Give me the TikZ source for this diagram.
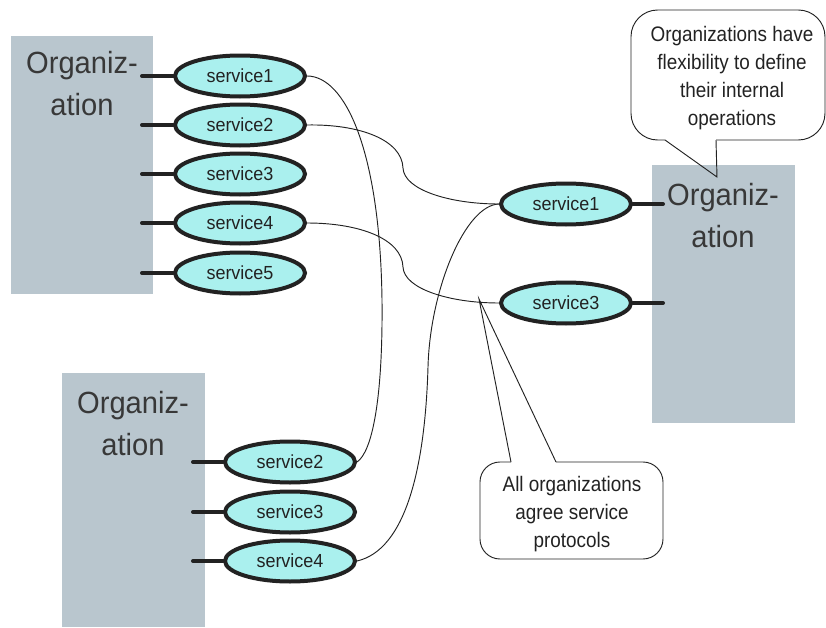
\documentclass[tikz,border=0pt]{standalone}
\usepackage{fontspec}
\setmainfont{Liberation Sans}[FakeStretch=0.9]
\newfontfamily\labelfont{Liberation Sans}[FakeStretch=0.95]
\usetikzlibrary{shapes.geometric,backgrounds}
\definecolor{orgfill}{HTML}{B9C6CE}
\definecolor{svcfill}{HTML}{AAF0EE}
\definecolor{ink}{HTML}{222222}
\begin{document}
\begin{tikzpicture}[x=0.75pt,y=-0.75pt,
  org/.style={fill=orgfill, draw=none, anchor=north west, inner sep=0},
  orglabel/.style={align=center, font=\labelfont\fontsize{23}{31.5}\selectfont, text=ink!90, inner sep=0},
  svc/.style={ellipse, draw=ink, line width=3pt, fill=svcfill, minimum width=97.5pt,
    minimum height=30.75pt, inner sep=0, font=\labelfont\fontsize{14.2}{16}\selectfont, text=ink},
  stub/.style={draw=ink, line width=3pt, line cap=round},
  link/.style={draw=ink, line width=0.7pt},
  note/.style={align=center, font=\fontsize{15.75}{21}\selectfont, text=ink, inner sep=0},
  callout/.style={draw=ink, line width=0.7pt}]
\useasboundingbox (0,0) rectangle (826,628);

% organisations
\node[org, minimum width=106.5pt, minimum height=193.5pt] (orgA) at (11,36) {};
\node[org, minimum width=107.25pt, minimum height=190.5pt] (orgB) at (62,373) {};
\node[org, minimum width=107.25pt, minimum height=193.5pt] (orgC) at (652,165) {};
\node[orglabel] (labA) at (82,84) {Organiz-\\ation};
\node[orglabel] (labB) at (133,424) {Organiz-\\ation};
\node[orglabel] (labC) at (723,216) {Organiz-\\ation};

% services of the first organisation
\foreach \n/\y in {1/76,2/125,3/174,4/223,5/273}{
  \node[svc] (a\n) at (240,\y) {service\n};
  \coordinate (sa\n) at (142,\y);
  \draw[stub] (sa\n) -- (a\n.west);
}
% services of the second organisation
\foreach \n/\y in {2/462,3/512,4/561}{
  \node[svc] (b\n) at (290,\y) {service\n};
  \coordinate (sb\n) at (193,\y);
  \draw[stub] (sb\n) -- (b\n.west);
}
% services of the third organisation
\foreach \n/\y in {1/204,3/303}{
  \node[svc] (c\n) at (566,\y) {service\n};
  \coordinate (sc\n) at (663,\y);
  \draw[stub] (c\n.east) -- (sc\n);
}

% connectors between services, kept behind the ellipses
\begin{pgfonlayer}{background}
\draw[link] (a1.east) .. controls (345,76) and (380,150) .. (382,300)
  .. controls (383,400) and (372,452) .. (b2.east);
\draw[link] (a2.east) .. controls (360,124) and (402,140) .. (403,168)
  .. controls (404,190) and (450,204) .. (c1.west);
\draw[link] (a4.east) .. controls (360,223) and (402,239) .. (403,267)
  .. controls (404,289) and (450,303) .. (c3.west);
\draw[link] (b4.east) .. controls (405,550) and (425,470) .. (428,367)
  .. controls (430,290) and (465,205) .. (c1.west);
\end{pgfonlayer}

% callouts
\node[note] (noteA) at (732,78) {Organizations have\\flexibility to define\\their internal\\operations};
\draw[callout, rounded corners=20] (665,140) -- (631,140) -- (631,10) -- (825,10)
  -- (825,140) -- (716,140);
\draw[callout] (716,140) -- (717,177) -- (665,140);

\node[note] (noteB) at (572,514) {All organizations\\agree service\\protocols};
\draw[callout, rounded corners=15] (511,462) -- (480,462) -- (480,559) -- (663,559)
  -- (663,462) -- (556,462);
\draw[callout] (556,462) -- (479,299) -- (511,462);
\end{tikzpicture}
\end{document}
